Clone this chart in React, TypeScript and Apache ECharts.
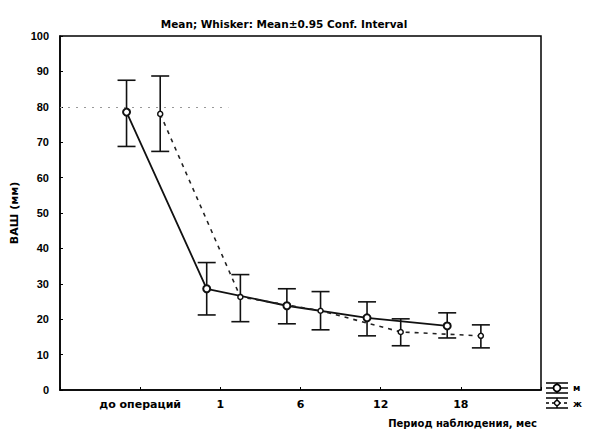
import React, { useEffect, useRef } from "react";
import * as echarts from "echarts";

const categories = ["до операций", "1", "6", "12", "18"];
const meanM = [78.5, 28.6, 23.8, 20.4, 18.1];
const lowM = [68.8, 21.2, 18.7, 15.3, 14.7];
const highM = [87.5, 36.0, 28.6, 24.9, 21.8];
const meanF = [78.0, 26.3, 22.4, 16.4, 15.3];
const lowF = [67.4, 19.3, 17.0, 12.5, 11.9];
const highF = [88.7, 32.6, 27.8, 20.1, 18.4];
const yTicks = [0, 10, 20, 30, 40, 50, 60, 70, 80, 90, 100];

const OFF_M = -0.17;
const OFF_F = 0.25;
const FONT = "Liberation Sans, Arial, sans-serif";
const WIDE = "DejaVu Sans, sans-serif";

function errSeries(name: string, off: number, low: number[], high: number[]) {
  const data = categories.map((_, i) => [i + 1 + off, low[i], high[i]]);
  return {
    type: "custom",
    name,
    silent: true,
    data,
    z: 3,
    renderItem: (params: any, api: any) => {
      const x = api.value(0);
      const lo = api.coord([x, api.value(1)]);
      const hi = api.coord([x, api.value(2)]);
      const w = 9;
      const st = { stroke: "#111", lineWidth: 1.6 };
      return {
        type: "group",
        children: [
          { type: "line", shape: { x1: lo[0], y1: lo[1], x2: hi[0], y2: hi[1] }, style: st },
          { type: "line", shape: { x1: lo[0] - w, y1: lo[1], x2: lo[0] + w, y2: lo[1] }, style: st },
          { type: "line", shape: { x1: hi[0] - w, y1: hi[1], x2: hi[0] + w, y2: hi[1] }, style: st },
        ],
      };
    },
  };
}

export default function App() {
  const ref = useRef<HTMLDivElement>(null);
  useEffect(() => {
    if (!ref.current) return;
    const chart = echarts.init(ref.current, undefined, { renderer: "svg" });
    const option: any = {
      animation: false,
      backgroundColor: "#fff",
      title: {
        text: "Mean; Whisker: Mean±0.95 Conf. Interval",
        left: 279,
        textAlign: "center",
        top: 13,
        textStyle: { fontFamily: WIDE, fontSize: 10.5, fontWeight: "bold", color: "#000" },
      },
      grid: { left: 60, right: 49, top: 36, bottom: 41, show: true, borderColor: "#000", borderWidth: 1.5 },
      xAxis: {
        type: "value",
        min: 0,
        max: 6,
        interval: 1,
        name: "Период наблюдения, мес",
        nameLocation: "end",
        nameGap: 0,
        nameTextStyle: {
          fontFamily: WIDE, fontSize: 10, fontWeight: "bold", color: "#000",
          align: "right", verticalAlign: "top", padding: [28, 4, 0, 0],
        },
        splitLine: { show: false },
        axisLine: { show: true, lineStyle: { color: "#000", width: 1.5 } },
        axisTick: { show: true, inside: true, length: 3, lineStyle: { color: "#000" } },
        axisLabel: {
          fontFamily: WIDE, fontSize: 11, fontWeight: "bold", color: "#000", margin: 9,
          formatter: (v: number) => (v >= 1 && v <= 5 ? categories[v - 1] : ""),
        },
      },
      yAxis: {
        type: "value",
        min: 0,
        max: 100,
        interval: 10,
        name: "ВАШ (мм)",
        nameLocation: "middle",
        nameGap: 40,
        nameTextStyle: { fontFamily: WIDE, fontSize: 11, fontWeight: "bold", color: "#000" },
        splitLine: { show: false },
        axisLine: { show: true, lineStyle: { color: "#000", width: 1.5 } },
        axisTick: { show: true, inside: true, length: 3, lineStyle: { color: "#000" } },
        axisLabel: {
          fontFamily: FONT, fontSize: 11, fontWeight: "bold", color: "#000", margin: 11,
          formatter: (v: number) => (yTicks.includes(v) ? String(v) : ""),
        },
      },
      series: [
        errSeries("м err", OFF_M, lowM, highM),
        errSeries("ж err", OFF_F, lowF, highF),
        {
          type: "line",
          name: "м",
          data: categories.map((_, i) => [i + 1 + OFF_M, meanM[i]]),
          lineStyle: { color: "#111", width: 1.8, type: "solid" },
          symbol: "circle",
          symbolSize: 7,
          itemStyle: { color: "#fff", borderColor: "#111", borderWidth: 2 },
          z: 5,
          markLine: {
            silent: true,
            symbol: "none",
            label: { show: false },
            lineStyle: { color: "#999", type: [2, 6], width: 1 },
            data: [[{ coord: [0, 80] }, { coord: [2.1, 80] }]],
          },
        },
        {
          type: "line",
          name: "ж",
          data: categories.map((_, i) => [i + 1 + OFF_F, meanF[i]]),
          lineStyle: { color: "#222", width: 1.6, type: [4, 5] },
          symbol: "circle",
          symbolSize: 5,
          itemStyle: { color: "#fff", borderColor: "#111", borderWidth: 1.5 },
          z: 5,
        },
      ],
      graphic: [
        { type: "line", shape: { x1: 546, y1: 383, x2: 568, y2: 383 }, style: { stroke: "#000", lineWidth: 1.5 } },
        { type: "line", shape: { x1: 546, y1: 393, x2: 568, y2: 393 }, style: { stroke: "#000", lineWidth: 1.5 } },
        { type: "line", shape: { x1: 557, y1: 383, x2: 557, y2: 393 }, style: { stroke: "#000", lineWidth: 1.5 } },
        { type: "line", shape: { x1: 546, y1: 388, x2: 568, y2: 388 }, style: { stroke: "#000", lineWidth: 1.5 } },
        { type: "circle", shape: { cx: 557, cy: 388, r: 3.5 }, style: { fill: "#fff", stroke: "#000", lineWidth: 1.8 } },
        { type: "text", x: 573, y: 388, style: { text: "м", fontFamily: WIDE, fontSize: 9, fontWeight: "bold", fill: "#000", verticalAlign: "middle" } },
        { type: "line", shape: { x1: 546, y1: 398, x2: 568, y2: 398 }, style: { stroke: "#000", lineWidth: 1.5 } },
        { type: "line", shape: { x1: 546, y1: 408, x2: 568, y2: 408 }, style: { stroke: "#000", lineWidth: 1.5 } },
        { type: "line", shape: { x1: 557, y1: 398, x2: 557, y2: 408 }, style: { stroke: "#000", lineWidth: 1.5 } },
        { type: "line", shape: { x1: 546, y1: 403, x2: 568, y2: 403 }, style: { stroke: "#000", lineWidth: 1.5, lineDash: [3, 3] } },
        { type: "circle", shape: { cx: 557, cy: 403, r: 2.5 }, style: { fill: "#fff", stroke: "#000", lineWidth: 1.4 } },
        { type: "text", x: 573, y: 404, style: { text: "ж", fontFamily: WIDE, fontSize: 9, fontWeight: "bold", fill: "#000", verticalAlign: "middle" } },
      ],
    };
    chart.setOption(option);
    return () => chart.dispose();
  }, []);
  return <div ref={ref} style={{ width: 590, height: 431, position: "absolute", left: 0, top: 0 }} />;
}
